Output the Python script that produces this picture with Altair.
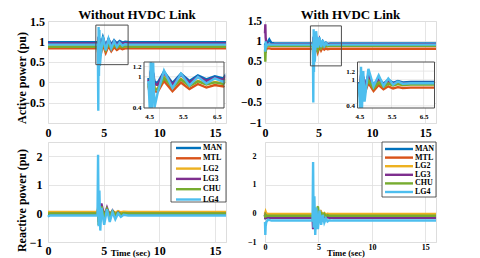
import altair as alt
import pandas as pd

SERIES = ["MAN", "MTL", "LG2", "LG3", "CHU", "LG4"]
COLORS = ["#0072BD", "#D95319", "#EDB120", "#7E2F8E", "#77AC30", "#4DBEEE"]
FONT = "Liberation Serif"
FRAME = "#4d4d4d"

X_TICKS = [0, 5, 10, 15]
TL_Y_TICKS = [-0.5, 0, 0.5, 1, 1.5]
TR_Y_TICKS = [-1, -0.5, 0, 0.5, 1, 1.5]
B_Y_TICKS = [-1, 0, 1, 2]
INSET_X_TICKS = [4.5, 5.5, 6.5]
INSET_Y_TICKS = [0.4, 1, 1.2]

# ---- Without HVDC link: active power ----
TL_T = [0, 4.48, 4.52, 4.55, 4.58, 4.62, 4.66, 4.75, 4.94, 5.19, 5.44, 5.69, 5.94, 6.19, 6.44, 6.69, 6.94, 7.3, 16]
TL_MAN = [0.98, 0.98, 0.82, 1.12, 0.86, 1.08, 0.9, 0.88, 1.1, 0.88, 1.06, 0.92, 1.03, 0.95, 1.01, 0.97, 0.99, 0.98, 0.98]
TL_MTL = [0.83, 0.83, 0.66, 0.98, 0.7, 0.94, 0.72, 0.7, 0.92, 0.72, 0.89, 0.76, 0.86, 0.79, 0.84, 0.81, 0.83, 0.83, 0.83]
TL_LG2 = [0.88, 0.88, 0.7, 1.05, 0.75, 1.0, 0.78, 0.76, 1.0, 0.8, 0.96, 0.83, 0.92, 0.86, 0.9, 0.87, 0.89, 0.88, 0.88]
TL_LG3 = [0.95, 0.95, 0.78, 1.1, 0.82, 1.06, 0.86, 0.84, 1.08, 0.85, 1.04, 0.89, 1.0, 0.92, 0.98, 0.94, 0.96, 0.95, 0.95]
TL_CHU = [0.87, 0.87, 0.7, 1.02, 0.74, 0.98, 0.76, 0.75, 0.98, 0.79, 0.95, 0.82, 0.91, 0.85, 0.89, 0.86, 0.88, 0.87, 0.87]
TL_LG4 = [0.92, 0.92, -0.7, 1.35, 0.15, 1.28, 0.4, 0.68, 1.12, 0.78, 1.06, 0.83, 1.0, 0.87, 0.97, 0.9, 0.93, 0.92, 0.92]

# ---- With HVDC link: active power ----
TR_T = [0, 0.03, 0.06, 0.1, 0.15, 0.25, 0.4, 0.6, 0.9, 1.0, 1.15, 1.4, 4.48, 4.52, 4.55, 4.58, 4.62, 4.66,
        4.78, 4.94, 5.1, 5.25, 5.4, 5.55, 5.7, 5.85, 6.1, 16]
TR_MAN = [0.9, 0.95, 0.85, 0.92, 0.95, 0.98, 1.05, 0.96, 0.95, 0.95, 0.95, 0.95, 0.95, 0.78, 1.12, 0.8, 1.08, 0.85,
          1.1, 0.88, 1.04, 0.91, 1.0, 0.93, 0.97, 0.94, 0.95, 0.95]
TR_MTL = [0.78, 0.8, 0.72, 0.8, 0.82, 0.83, 0.83, 0.82, 0.82, 0.82, 0.82, 0.82, 0.82, 0.6, 0.95, 0.62, 0.9, 0.68,
          0.93, 0.74, 0.88, 0.78, 0.85, 0.8, 0.83, 0.81, 0.82, 0.82]
TR_LG2 = [0.85, 0.9, 0.8, 0.88, 0.9, 0.91, 0.9, 0.9, 0.9, 0.9, 0.9, 0.9, 0.9, 0.7, 1.02, 0.72, 0.98, 0.77,
          1.0, 0.82, 0.95, 0.85, 0.92, 0.88, 0.91, 0.89, 0.9, 0.9]
TR_LG3 = [1.2, 1.42, 1.1, 1.0, 0.95, 0.93, 0.94, 0.93, 0.93, 0.93, 0.93, 0.93, 0.93, 0.75, 1.1, 0.78, 1.06, 0.82,
          1.12, 0.86, 1.03, 0.89, 0.98, 0.91, 0.95, 0.92, 0.93, 0.93]
TR_CHU = [0.8, 0.5, 0.75, 0.85, 0.88, 0.9, 0.9, 0.89, 0.89, 0.89, 0.89, 0.89, 0.89, 0.68, 1.0, 0.7, 0.96, 0.76,
          0.98, 0.8, 0.94, 0.84, 0.91, 0.87, 0.9, 0.88, 0.89, 0.89]
TR_LG4 = [0.9, 0.75, 1.0, 0.85, 0.9, 0.92, 0.93, 0.92, 0.92, 0.92, 0.92, 0.92, 0.92, -0.5, 1.3, 0.25, 1.2, 0.5,
          1.25, 0.85, 1.1, 0.86, 1.03, 0.89, 0.96, 0.91, 0.92, 0.92]

# ---- Without HVDC link: reactive power ----
BL_T = [0, 0.05, 0.2, 4.45, 4.5, 4.55, 4.62, 4.7, 4.8, 5.05, 5.3, 5.55, 5.8, 6.05, 6.3, 6.55, 6.8, 7.2, 16]
BL_MAN = [-0.03, -0.03, -0.03, -0.03, 0.1, -0.2, 0.15, -0.25, 0.1, -0.15, 0.08, -0.1, 0.04, -0.07, 0.0, -0.05, -0.02, -0.03, -0.03]
BL_MTL = [0.02, 0.02, 0.02, 0.02, 0.15, -0.15, 0.2, -0.2, 0.15, -0.1, 0.12, -0.05, 0.08, -0.02, 0.05, 0.0, 0.03, 0.02, 0.02]
BL_LG2 = [0.05, 0.05, 0.05, 0.05, 0.2, -0.1, 0.25, -0.15, 0.2, -0.05, 0.15, -0.02, 0.1, 0.02, 0.08, 0.04, 0.06, 0.05, 0.05]
BL_LG3 = [-0.02, -0.02, -0.02, -0.02, 0.1, -0.3, 0.3, -0.2, 0.35, -0.1, 0.2, -0.08, 0.1, -0.05, 0.04, -0.03, 0.0, -0.02, -0.02]
BL_CHU = [0.0, 0.0, 0.0, 0.0, 0.1, -0.4, 0.2, -0.3, 0.25, -0.12, 0.15, -0.08, 0.08, -0.04, 0.03, -0.02, 0.01, 0.0, 0.0]
BL_LG4 = [-0.12, -0.1, -0.07, -0.07, 2.05, -0.45, 0.8, -0.6, 0.2, -0.4, 0.15, -0.3, 0.05, -0.2, 0.0, -0.12, -0.05, -0.07, -0.07]

# ---- With HVDC link: reactive power ----
BR_T = [0, 0.03, 0.06, 0.12, 0.3, 0.6, 1.0, 4.45, 4.5, 4.55, 4.62, 4.7, 4.8, 4.95, 5.1, 5.25, 5.4, 5.55, 5.7, 5.85, 6.0, 6.3, 16]
BR_MAN = [-0.05, -0.2, -0.15, -0.12, -0.1, -0.1, -0.1, -0.1, -0.2, 0.05, -0.3, 0.1, -0.25, 0.05, -0.2, 0.0, -0.15, -0.05, -0.12, -0.08, -0.1, -0.1, -0.1]
BR_MTL = [0.0, -0.1, -0.05, -0.06, -0.06, -0.06, -0.06, -0.06, -0.15, 0.1, -0.25, 0.12, -0.2, 0.08, -0.15, 0.02, -0.1, -0.03, -0.08, -0.05, -0.06, -0.06, -0.06]
BR_LG2 = [0.05, 0.02, 0.06, 0.0, -0.02, -0.02, -0.02, -0.02, -0.1, 0.15, -0.15, 0.2, -0.1, 0.12, -0.08, 0.05, -0.05, 0.01, -0.03, -0.01, -0.02, -0.02, -0.02]
BR_LG3 = [-0.05, -0.2, -0.1, -0.15, -0.15, -0.15, -0.15, -0.15, -0.55, 0.0, -0.35, 0.05, -0.3, 0.0, -0.25, -0.05, -0.2, -0.1, -0.17, -0.13, -0.15, -0.15, -0.15]
BR_CHU = [-0.05, -0.15, -0.05, -0.08, -0.08, -0.08, -0.08, -0.08, -0.3, 0.05, -0.25, 0.1, -0.15, 0.25, -0.2, 0.05, -0.15, -0.02, -0.1, -0.06, -0.08, -0.08, -0.08]
BR_LG4 = [-0.3, -0.75, -0.45, -0.3, -0.22, -0.25, -0.25, -0.25, 1.8, -0.5, 0.6, -0.75, 0.2, -0.55, 0.1, -0.4, -0.05, -0.32, -0.18, -0.28, -0.24, -0.25, -0.25]

# zoom rectangles drawn on the main plots (t0, t1, y0, y1)
TL_BOX = [4.3, 7.2, 0.43, 1.4]
TR_BOX = [4.25, 7.15, 0.4, 1.38]
# inset domains
TL_INSET_X = [4.35, 6.71]
TL_INSET_Y = [0.39, 1.29]
TR_INSET_X = [4.44, 6.84]
TR_INSET_Y = [0.35, 1.41]

LW = 2.4
cscale = alt.Scale(domain=SERIES, range=COLORS)


def to_long(t, series_vals):
    rows = []
    for name, vals in zip(SERIES, series_vals):
        for i, (ti, vi) in enumerate(zip(t, vals)):
            rows.append({"t": ti, "v": vi, "s": name, "i": i})
    return pd.DataFrame(rows)


def lab(size, pad, **kw):
    base = dict(labelFont=FONT, labelFontWeight="bold", labelColor="black", labelFontSize=size,
                labelPadding=pad, ticks=False, domain=False, labelFlush=False, labelOverlap=False,
                format=".1~f")
    base.update(kw)
    return base


def lines_layer(df, ydom, xaxis, yaxis):
    return alt.Chart(df).mark_line(strokeWidth=LW).encode(
        x=alt.X("t:Q", scale=alt.Scale(domain=[0, 16], nice=False), axis=xaxis),
        y=alt.Y("v:Q", scale=alt.Scale(domain=ydom, nice=False), axis=yaxis),
        color=alt.Color("s:N", scale=cscale, legend=None),
        order="i:Q",
    )


def top_panel(df, title, w, h, box, ins_x, ins_y, ins_xr, ins_yr, yticks, ylab_size, ytitle):
    yaxis_kw = lab(ylab_size, 3.5, values=yticks, grid=True, gridColor="#dedede", gridWidth=0.8)
    if ytitle:
        yaxis_kw.update(title=ytitle, titleFont=FONT, titleFontWeight="bold", titleColor="black",
                        titleFontSize=12, titleX=-27, titleY=56.5, titleAlign="center",
                        titleBaseline="middle", titleAngle=270)
    else:
        yaxis_kw.update(title=None)
    xaxis = alt.Axis(**lab(12, 4, values=X_TICKS, grid=True, gridColor="#dedede", gridWidth=0.8, title=None))
    lines = lines_layer(df, [-1, 1.5], xaxis, alt.Axis(**yaxis_kw))

    boxdf = pd.DataFrame({"x": [box[0]], "x2": [box[1]], "y": [box[2]], "y2": [box[3]]})
    zbox = alt.Chart(boxdf).mark_rect(fillOpacity=0, stroke=FRAME, strokeWidth=1).encode(
        x=alt.X("x:Q", scale=alt.Scale(domain=[0, 16], nice=False), axis=None), x2="x2:Q",
        y=alt.Y("y:Q", scale=alt.Scale(domain=[-1, 1.5], nice=False), axis=None), y2="y2:Q")

    ixs = alt.Scale(domain=ins_x, range=ins_xr, nice=False, zero=False, clamp=True)
    iys = alt.Scale(domain=ins_y, range=ins_yr, nice=False, zero=False, clamp=True)
    framedf = pd.DataFrame({"x": [ins_x[0]], "x2": [ins_x[1]], "y": [ins_y[0]], "y2": [ins_y[1]]})
    bg = alt.Chart(framedf).mark_rect(fill="white", strokeWidth=0).encode(
        x=alt.X("x:Q", scale=ixs, axis=None), x2="x2:Q",
        y=alt.Y("y:Q", scale=iys, axis=None), y2="y2:Q")
    gx = alt.Chart(pd.DataFrame({"x": INSET_X_TICKS, "y": ins_y[0], "y2": ins_y[1]})).mark_rule(
        color="#e2e2e2", strokeWidth=0.8).encode(
        x=alt.X("x:Q", scale=ixs, axis=None), y=alt.Y("y:Q", scale=iys, axis=None), y2="y2:Q")
    gy = alt.Chart(pd.DataFrame({"y": INSET_Y_TICKS, "x": ins_x[0], "x2": ins_x[1]})).mark_rule(
        color="#e2e2e2", strokeWidth=0.8).encode(
        x=alt.X("x:Q", scale=ixs, axis=None), x2="x2:Q", y=alt.Y("y:Q", scale=iys, axis=None))
    ilines = alt.Chart(df).transform_filter(alt.datum.t >= 4.48).mark_line(strokeWidth=LW).encode(
        x=alt.X("t:Q", scale=ixs, axis=None),
        y=alt.Y("v:Q", scale=iys, axis=None),
        color=alt.Color("s:N", scale=cscale, legend=None),
        order="i:Q")
    frame = alt.Chart(framedf).mark_rect(fillOpacity=0, stroke=FRAME, strokeWidth=1).encode(
        x=alt.X("x:Q", scale=ixs, axis=alt.Axis(**lab(7, 4, values=INSET_X_TICKS, orient="bottom",
                                                     offset=ins_yr[0] - h, grid=False, title=None))),
        x2="x2:Q",
        y=alt.Y("y:Q", scale=iys, axis=alt.Axis(**lab(7, 3, values=INSET_Y_TICKS, orient="left",
                                                     offset=-ins_xr[0], grid=False, title=None))),
        y2="y2:Q")
    ttl = alt.Chart(pd.DataFrame({"s": [title]})).mark_text(
        font=FONT, fontSize=13, fontWeight="bold", color="black", align="center",
        baseline="alphabetic").encode(x=alt.value(w / 2), y=alt.value(-2.5), text="s:N")
    return alt.layer(lines, zbox, bg, gx, gy, ilines, frame, ttl).resolve_scale(
        x="independent", y="independent").properties(width=w, height=h)


def bottom_panel(df, w, h, ylab_size, ylab_pad, xlab_size, xlab_pad, ytitle, ttl_x, ttl_y, ttl_size,
                 leg_box, leg_x, leg_y):
    yaxis_kw = lab(ylab_size, ylab_pad, values=B_Y_TICKS, grid=True, gridColor="#dedede", gridWidth=0.8)
    if ytitle:
        yaxis_kw.update(title=ytitle, titleFont=FONT, titleFontWeight="bold", titleColor="black",
                        titleFontSize=12, titleX=-27, titleY=58, titleAlign="center",
                        titleBaseline="middle", titleAngle=270)
    else:
        yaxis_kw.update(title=None)
    xaxis = alt.Axis(**lab(xlab_size, xlab_pad, values=X_TICKS, grid=True, gridColor="#dedede", gridWidth=0.8,
                           title="Time (sec)", titleFont=FONT, titleFontWeight="bold", titleColor="black",
                           titleFontSize=ttl_size, titleX=ttl_x, titleY=ttl_y, titleAlign="center",
                           titleBaseline="middle"))
    lines = lines_layer(df, [-1, 2.5], xaxis, alt.Axis(**yaxis_kw))

    legdf = pd.DataFrame({"s": SERIES})
    lbox = alt.Chart(pd.DataFrame({"k": [0]})).mark_rect(fill="white", stroke="#333333", strokeWidth=0.8).encode(
        x=alt.value(leg_box[0]), x2=alt.value(leg_box[1]), y=alt.value(leg_box[2]), y2=alt.value(leg_box[3]))
    ly = alt.Y("s:N", scale=alt.Scale(type="point", domain=SERIES, range=leg_y, padding=0), axis=None)
    lrules = alt.Chart(legdf).mark_rule(strokeWidth=LW).encode(
        x=alt.value(leg_x[0]), x2=alt.value(leg_x[1]), y=ly,
        color=alt.Color("s:N", scale=cscale, legend=None))
    ltext = alt.Chart(legdf).mark_text(align="left", baseline="middle", font=FONT, fontWeight="bold",
                                       fontSize=8, color="black").encode(
        x=alt.value(leg_x[2]), y=ly, text="s:N")
    return alt.layer(lines, lbox, lrules, ltext).resolve_scale(y="independent").properties(width=w, height=h)


tl = top_panel(to_long(TL_T, [TL_MAN, TL_MTL, TL_LG2, TL_LG3, TL_CHU, TL_LG4]), "Without HVDC Link",
               178, 102, TL_BOX, TL_INSET_X, TL_INSET_Y, [96, 176], [87, 41], TL_Y_TICKS, 12,
               "Active power (pu)")
tr = top_panel(to_long(TR_T, [TR_MAN, TR_MTL, TR_LG2, TR_LG3, TR_CHU, TR_LG4]), "With HVDC Link",
               171, 102, TR_BOX, TR_INSET_X, TR_INSET_Y, [92.5, 169.5], [87, 41], TR_Y_TICKS, 11.5, None)
bl = bottom_panel(to_long(BL_T, [BL_MAN, BL_MTL, BL_LG2, BL_LG3, BL_CHU, BL_LG4]), 178, 100,
                  12, 6, 12, 3, "Reactive power (pu)", 82, 10, 9,
                  [123, 178, 0, 60], [128, 153, 155], [6, 57.5])
br = bottom_panel(to_long(BR_T, [BR_MAN, BR_MTL, BR_LG2, BR_LG3, BR_CHU, BR_LG4]), 171, 100,
                  8, 9, 8, 1, None, 80.5, 10, 8.6,
                  [117, 171, 0, 55], [120, 148, 150], [7, 50])

chart = alt.concat(tl, tr, bl, br, columns=2, spacing={"row": 19, "column": 39}, bounds="flush").properties(
    padding={"left": 6, "top": 0, "right": 2, "bottom": 0}
).configure_view(stroke=FRAME, strokeWidth=1).configure(background="white")

chart.save("out.html", embed_options={"renderer": "svg", "actions": False})
